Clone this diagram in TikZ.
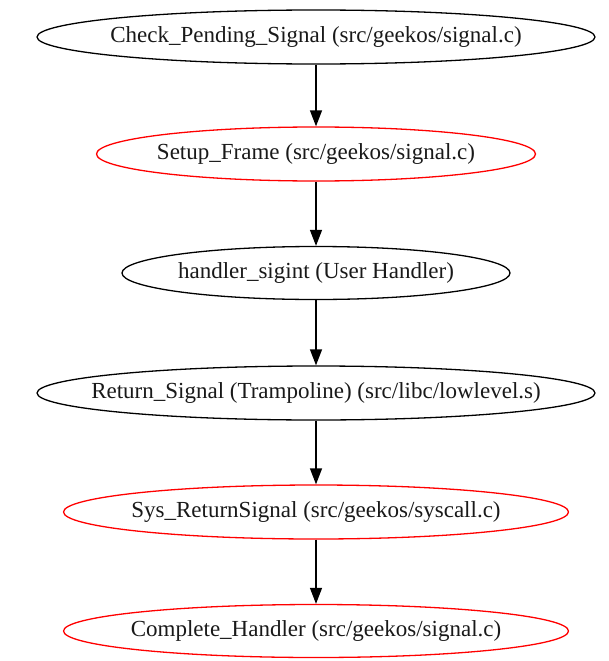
\documentclass[tikz,border=0pt]{standalone}
\usepackage{fontspec}
\setmainfont{Liberation Serif}
\usetikzlibrary{shapes.geometric,arrows.meta}
\newcommand{\zb}[1]{\makebox[0pt][c]{#1}}
\tikzset{
  fn/.style={ellipse, draw=black, line width=1.3pt, inner sep=0pt, font=\fontsize{23}{26}\selectfont, text=black!90},
  fnred/.style={fn, draw=red},
  flow/.style={-{Triangle[length=16pt,width=12pt]}, line width=1.3pt, black}
}
\begin{document}
\begin{tikzpicture}[x=1pt,y=-1pt]
\useasboundingbox (0,0) rectangle (609,661);
\node[fn, minimum width=558pt, minimum height=54pt] (a) at (316,37) {\zb{Check\_Pending\_Signal (src/geekos/signal.c)}};
\node[fnred, minimum width=439pt, minimum height=54pt] (b) at (316,154) {\zb{Setup\_Frame (src/geekos/signal.c)}};
\node[fn, minimum width=388pt, minimum height=53pt] (c) at (316,273) {\zb{handler\_sigint (User Handler)}};
\node[fn, minimum width=558pt, minimum height=54pt] (d) at (316,393) {\zb{Return\_Signal (Trampoline) (src/libc/lowlevel.s)}};
\node[fnred, minimum width=505pt, minimum height=54pt] (e) at (316,512) {\zb{Sys\_ReturnSignal (src/geekos/syscall.c)}};
\node[fnred, minimum width=505pt, minimum height=53pt] (f) at (316,631) {\zb{Complete\_Handler (src/geekos/signal.c)}};
\draw[flow] (a) -- (b);
\draw[flow] (b) -- (c);
\draw[flow] (c) -- (d);
\draw[flow] (d) -- (e);
\draw[flow] (e) -- (f);
\end{tikzpicture}
\end{document}
